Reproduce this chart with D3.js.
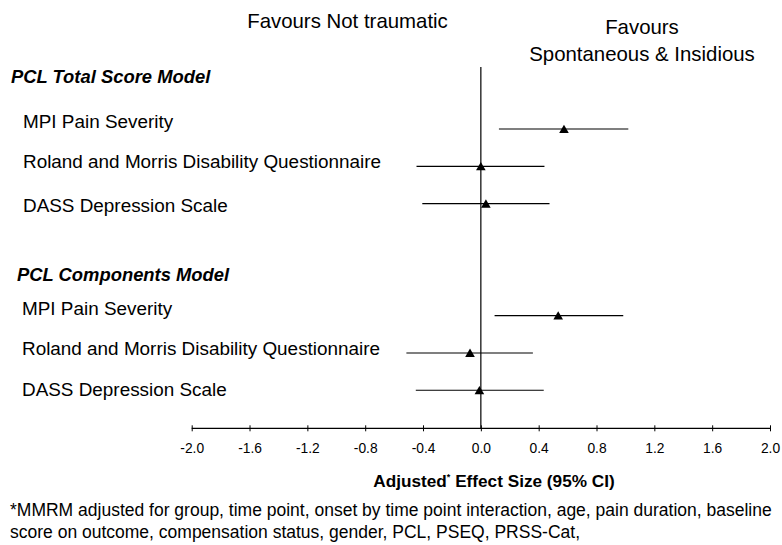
<!DOCTYPE html>
<html>
<head>
<meta charset="utf-8">
<script src="https://cdn.jsdelivr.net/npm/d3@7/dist/d3.min.js"></script>
<style>
  html, body { margin: 0; padding: 0; background: #fff; }
  svg { display: block; font-family: "Liberation Sans", Arial, sans-serif; }
</style>
</head>
<body>
<svg id="chart" width="782" height="545"></svg>
<script>
// ---- data ----
const groups = ["PCL Total Score Model", "PCL Components Model"];
const measures = ["MPI Pain Severity", "Roland and Morris Disability Questionnaire", "DASS Depression Scale"];
// effect sizes and 95% CI (per group, per measure)
const estimates = [[0.575, 0.00, 0.035], [0.535, -0.075, -0.01]];
const lower     = [[0.125, -0.445, -0.405], [0.095, -0.515, -0.45]];
const upper     = [[1.02, 0.44, 0.475], [0.985, 0.36, 0.435]];
const tickValues = [-2.0, -1.6, -1.2, -0.8, -0.4, 0.0, 0.4, 0.8, 1.2, 1.6, 2.0];
const tickLabels = ["-2.0", "-1.6", "-1.2", "-0.8", "-0.4", "0.0", "0.4", "0.8", "1.2", "1.6", "2.0"];
const leftLabel = "Favours Not traumatic";
const rightLabel = ["Favours", "Spontaneous & Insidious"];
const footnote = [
  "*MMRM adjusted for group, time point, onset by time point interaction, age, pain duration, baseline",
  "score on outcome, compensation status, gender, PCL, PSEQ, PRSS-Cat,"
];

// ---- layout ----
const svg = d3.select("#chart");
const x = d3.scaleLinear().domain([-2, 2]).range([191.7, 770]);
const y = d3.scaleLinear().domain([0, 7]).range([129, 390.3]); // row index
const axisY = 428.3;

// rows
const rows = [];
groups.forEach((g, gi) => {
  measures.forEach((m, mi) => {
    rows.push({ group: gi, idx: mi, name: m, row: gi * 5 + mi,
      est: estimates[gi][mi], lo: lower[gi][mi], hi: upper[gi][mi] });
  });
});

// top labels
svg.append("text").attr("x", 347.5).attr("y", 28).attr("text-anchor", "middle")
  .attr("font-size", 20.4).text(leftLabel);
rightLabel.forEach((t, i) => {
  svg.append("text").attr("x", 642).attr("y", 34 + i * 26.5).attr("text-anchor", "middle")
    .attr("font-size", 20.4).text(t);
});

// group headers
const headerPos = [{ x: 11, y: 83.3 }, { x: 17, y: 280.7 }];
groups.forEach((g, gi) => {
  svg.append("text").attr("x", headerPos[gi].x).attr("y", headerPos[gi].y)
    .attr("font-size", 18.4).attr("font-weight", "bold").attr("font-style", "italic").text(g);
});

// measure labels
const labelDy = [-1, 2, 8];
svg.selectAll("text.measure").data(rows).enter().append("text")
  .attr("class", "measure")
  .attr("x", d => d.group === 0 ? 23 : 22)
  .attr("y", d => y(d.row) + labelDy[d.idx] - (d.group === 1 && d.idx === 2 ? 2 : 0))
  .attr("font-size", 18.9)
  .text(d => d.name);

// zero reference line
svg.append("line").attr("x1", x(0)).attr("x2", x(0)).attr("y1", 67).attr("y2", axisY)
  .attr("stroke", "#000").attr("stroke-width", 1.2);

// CI lines
svg.selectAll("line.ci").data(rows).enter().append("line")
  .attr("class", "ci")
  .attr("x1", d => x(d.lo)).attr("x2", d => x(d.hi))
  .attr("y1", d => y(d.row)).attr("y2", d => y(d.row))
  .attr("stroke", "#000").attr("stroke-width", 1.1);

// point estimates (triangles)
const tri = d3.symbol().type(d3.symbolTriangle).size(40);
svg.selectAll("path.pt").data(rows).enter().append("path")
  .attr("class", "pt")
  .attr("d", tri)
  .attr("transform", d => `translate(${x(d.est)},${y(d.row) + 1.2})`)
  .attr("fill", "#000");

// x axis
const axis = d3.axisBottom(x).tickValues(tickValues)
  .tickFormat((d, i) => tickLabels[i]).tickSize(3).tickPadding(0);
const gAxis = svg.append("g").attr("transform", `translate(0,${axisY})`).call(axis);
gAxis.select(".domain").attr("stroke", "#000").attr("stroke-width", 1.2)
  .attr("d", `M${x(-2)},0H${x(2)}`);
gAxis.selectAll(".tick line").attr("y1", -3).attr("y2", 3).attr("stroke", "#000");
gAxis.selectAll(".tick text").attr("y", 25).attr("dy", 0)
  .attr("font-size", 13.8).attr("fill", "#000")
  .attr("font-family", "'Liberation Sans', Arial, sans-serif");

// axis title
const title = svg.append("text").attr("x", 494).attr("y", 487).attr("text-anchor", "middle")
  .attr("font-size", 17.2).attr("font-weight", "bold");
title.append("tspan").text("Adjusted");
title.append("tspan").attr("font-size", 9).attr("dy", -7).text("*");
title.append("tspan").attr("dy", 7).text(" Effect Size (95% CI)");

// footnote
footnote.forEach((t, i) => {
  svg.append("text").attr("x", 10).attr("y", 515.5 + i * 22).attr("font-size", 17.5).text(t);
});
</script>
</body>
</html>
